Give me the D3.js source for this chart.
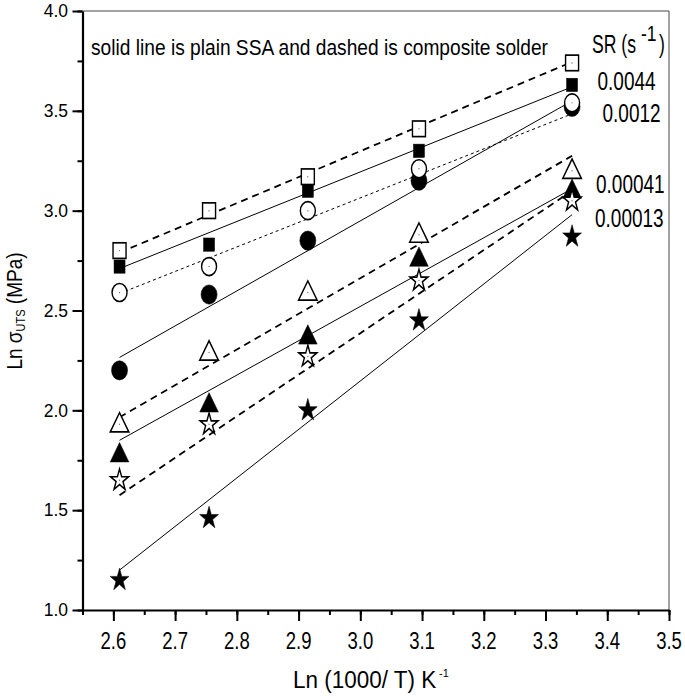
<!DOCTYPE html>
<html>
<head>
<meta charset="utf-8">
<script src="https://cdn.jsdelivr.net/npm/d3@7/dist/d3.min.js"></script>
<style>
  html, body { margin: 0; padding: 0; background: #fff; }
  svg { display: block; }
  text { font-family: "Liberation Sans", Arial, sans-serif; fill: #000; }
</style>
</head>
<body>
<svg id="chart" width="685" height="696"></svg>
<script>
// ---- data ----
const xValues = [2.61, 2.755, 2.915, 3.095, 3.343];
const openSquare     = [2.80, 3.00, 3.17, 3.41, 3.74];
const filledSquare   = [2.72, 2.83, 3.10, 3.30, 3.63];
const openCircle     = [2.59, 2.72, 3.00, 3.21, 3.54];
const filledCircle   = [2.20, 2.58, 2.85, 3.15, 3.52];
const openTriangle   = [1.93, 2.29, 2.59, 2.88, 3.20];
const filledTriangle = [1.78, 2.03, 2.37, 2.76, 3.10];
const openStar       = [1.65, 1.93, 2.27, 2.65, 3.05];
const filledStar     = [1.15, 1.46, 2.00, 2.45, 2.87];
// fit lines: x at start / end and y at start / end
const fitX = [2.61, 3.343];
const fitOpenSquare     = [2.79, 3.745];
const fitFilledSquare   = [2.71, 3.62];
const fitOpenCircle     = [2.585, 3.485];
const fitFilledCircle   = [2.265, 3.55];
const fitOpenTriangle   = [1.965, 3.275];
const fitFilledTriangle = [1.85, 3.11];
const fitOpenStar       = [1.575, 3.10];
const fitFilledStar     = [1.20, 2.98];
const xTicks = [2.6, 2.7, 2.8, 2.9, 3.0, 3.1, 3.2, 3.3, 3.4, 3.5];
const yTicks = [1.0, 1.5, 2.0, 2.5, 3.0, 3.5, 4.0];
const rateLabels = ["0.0044", "0.0012", "0.00041", "0.00013"];

// ---- layout ----
const svg = d3.select("#chart");
const x = d3.scaleLinear().domain([2.55, 3.5]).range([82.5, 669]);
const y = d3.scaleLinear().domain([1.0, 4.0]).range([610, 11]);

function sText(parent, px, py, size, sy, anchor) {
  return parent.append("text")
    .attr("transform", `translate(${px},${py}) scale(1,${sy})`)
    .attr("font-size", size)
    .attr("text-anchor", anchor || "start");
}

// frame top/right
svg.append("line").attr("x1", x(2.55)).attr("x2", x(3.5)).attr("y1", y(4)).attr("y2", y(4))
  .attr("stroke", "#444").attr("stroke-width", 1);
svg.append("line").attr("x1", x(3.5)).attr("x2", x(3.5)).attr("y1", y(4)).attr("y2", y(1))
  .attr("stroke", "#444").attr("stroke-width", 1);

// axes
const xMinor = d3.range(2.55, 3.501, 0.05);
const yMinor = d3.range(1.0, 4.001, 0.25);
const gx = svg.append("g").attr("transform", `translate(0,${y(1)})`);
gx.call(d3.axisBottom(x).tickValues(xMinor).tickSize(5).tickFormat(""));
gx.call(g => g.select(".domain").remove());
const gx2 = svg.append("g").attr("transform", `translate(0,${y(1)})`);
gx2.call(d3.axisBottom(x).tickValues(xTicks).tickSize(11).tickFormat("").tickSizeOuter(0));
gx2.select(".domain").attr("stroke-width", 2.2);

const gy = svg.append("g").attr("transform", `translate(${x(2.55)},0)`);
gy.call(d3.axisLeft(y).tickValues(yMinor).tickSize(5).tickFormat(""));
gy.call(g => g.select(".domain").remove());
const gy2 = svg.append("g").attr("transform", `translate(${x(2.55)},0)`);
gy2.call(d3.axisLeft(y).tickValues(yTicks).tickSize(10).tickFormat("").tickSizeOuter(0));
gy2.select(".domain").attr("stroke-width", 2.2);
svg.selectAll(".tick line").attr("stroke-width", 2);

// tick labels
const fmt = d3.format(".1f");
xTicks.forEach(t => sText(svg, x(t), 649, 18.5, 1.3, "middle").text(fmt(t)));
yTicks.forEach(t => sText(svg, 68, y(t) + 6.2, 17.5, 1.05, "end").text(fmt(t)));

// ---- fit lines ----
const line = d3.line().x(d => x(d[0])).y(d => y(d[1]));
const fits = [
  { v: fitOpenSquare, dash: "7,5", w: 1.8 },
  { v: fitFilledSquare, dash: null, w: 1 },
  { v: fitOpenCircle, dash: "3,3", w: 1 },
  { v: fitFilledCircle, dash: null, w: 1 },
  { v: fitOpenTriangle, dash: "7,5", w: 1.8 },
  { v: fitFilledTriangle, dash: null, w: 1 },
  { v: fitOpenStar, dash: "7,5", w: 1.8 },
  { v: fitFilledStar, dash: null, w: 1 }
];
fits.forEach(f => {
  svg.append("path").attr("d", line(fitX.map((xx, i) => [xx, f.v[i]])))
    .attr("fill", "none").attr("stroke", "#000").attr("stroke-width", f.w)
    .attr("stroke-dasharray", f.dash);
});

// ---- markers ----
const sy = 1.2; // vertical stretch of markers
function drawMarkers(vals, kind, filled) {
  const g = svg.append("g");
  vals.forEach((v, i) => {
    const cx = x(xValues[i]), cy = y(v);
    const m = g.append("g").attr("transform", `translate(${cx},${cy}) scale(1,${sy})`);
    let p;
    if (kind === "square") {
      const s = filled ? 11 : 13;
      p = m.append("rect").attr("x", -s / 2).attr("y", -s / 2).attr("width", s).attr("height", s);
    } else if (kind === "circle") {
      p = m.append("circle").attr("r", filled ? 8 : 7.5);
    } else if (kind === "triangle") {
      p = m.append("path").attr("d", d3.symbol().type(d3.symbolTriangle).size(150)()).attr("transform", "translate(0,1)");
    } else {
      p = m.append("path").attr("d", d3.symbol().type(d3.symbolStar).size(filled ? 110 : 100)());
    }
    p.attr("fill", filled ? "#000" : "#fff").attr("stroke", "#000")
      .attr("stroke-width", filled ? 0.5 : 1.4);
    if (!filled) m.append("circle").attr("r", 0.6).attr("fill", "#666");
  });
}
drawMarkers(filledSquare, "square", true);
drawMarkers(filledCircle, "circle", true);
drawMarkers(filledTriangle, "triangle", true);
drawMarkers(filledStar, "star", true);
drawMarkers(openSquare, "square", false);
drawMarkers(openCircle, "circle", false);
drawMarkers(openTriangle, "triangle", false);
drawMarkers(openStar, "star", false);

// ---- annotations ----
sText(svg, 91, 55, 19, 1.15).attr("textLength", 457).attr("lengthAdjust", "spacingAndGlyphs")
  .text("solid line is plain SSA and dashed is composite solder");
sText(svg, 592, 53, 17.6, 1.45).text("SR (s");
sText(svg, 641, 41, 17.5, 1.3).text("-1");
sText(svg, 659, 53, 17.6, 1.45).text(")");
const labelPos = [[597.5, 90], [602.5, 121.5], [596, 192.5], [595, 226.5]];
rateLabels.forEach((t, i) => {
  sText(svg, labelPos[i][0], labelPos[i][1], 19, 1.35).text(t);
});

// axis titles
const xt = sText(svg, 293, 688, 22.5, 1.05);
xt.append("tspan").text("Ln (1000/ T) K");
sText(svg, 439, 677, 11, 1.05).text("-1");

const yt = svg.append("text").attr("transform", "translate(22,311) rotate(-90) scale(1,1.15)")
  .attr("text-anchor", "middle").attr("font-size", 19);
yt.append("tspan").text("Ln σ");
yt.append("tspan").attr("dy", 3).attr("font-size", 11).text("UTS");
yt.append("tspan").attr("dy", -3).text(" (MPa)");
</script>
</body>
</html>
